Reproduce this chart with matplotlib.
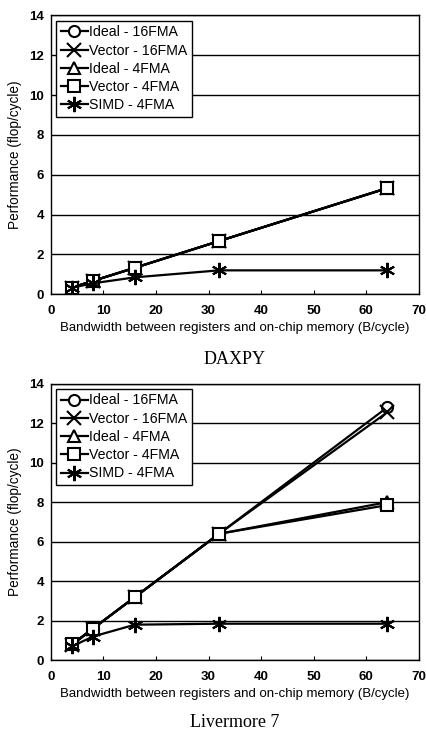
import matplotlib
matplotlib.use("Agg")
import matplotlib.pyplot as plt

bandwidth = [4, 8, 16, 32, 64]
series_labels = ["Ideal - 16FMA", "Vector - 16FMA", "Ideal - 4FMA", "Vector - 4FMA", "SIMD - 4FMA"]
markers = ["o", "x", "^", "s", (6, 2, 0)]

daxpy_ideal16 = [0.33, 0.67, 1.33, 2.67, 5.33]
daxpy_vector16 = [0.33, 0.67, 1.33, 2.67, 5.33]
daxpy_ideal4 = [0.33, 0.67, 1.33, 2.67, 5.33]
daxpy_vector4 = [0.33, 0.67, 1.33, 2.67, 5.33]
daxpy_simd4 = [0.33, 0.55, 0.85, 1.2, 1.2]

liv_ideal16 = [0.8, 1.6, 3.2, 6.4, 12.8]
liv_vector16 = [0.75, 1.6, 3.2, 6.4, 12.55]
liv_ideal4 = [0.8, 1.6, 3.2, 6.4, 8.0]
liv_vector4 = [0.8, 1.6, 3.2, 6.4, 7.85]
liv_simd4 = [0.7, 1.2, 1.8, 1.85, 1.85]

xticks = [0, 10, 20, 30, 40, 50, 60, 70]
yticks = [0, 2, 4, 6, 8, 10, 12, 14]

plt.rcParams['font.family'] = ['Liberation Sans', 'DejaVu Sans']

fig = plt.figure(figsize=(4.27, 7.32), dpi=100)
ax1 = fig.add_axes([0.119, 0.598, 0.862, 0.381])
ax2 = fig.add_axes([0.119, 0.098, 0.862, 0.378])

def draw(ax, data, title, ty):
    for vals, lab, m in zip(data, series_labels, markers):
        ms = 10 if m in ("x",) else (11 if isinstance(m, tuple) else 8)
        ax.plot(bandwidth, vals, color="black", lw=1.6, marker=m, ms=ms,
                mfc="white", mec="black", mew=1.5, label=lab)
    ax.set_xlim(0, 70)
    ax.set_ylim(0, 14)
    ax.set_xticks(xticks)
    ax.set_yticks(yticks)
    ax.yaxis.grid(True, color="black", lw=1.0)
    ax.set_axisbelow(True)
    for s in ax.spines.values():
        s.set_linewidth(1.0)
    ax.tick_params(axis="x", direction="in", length=3, labelsize=9.5, pad=8)
    ax.tick_params(axis="y", direction="out", length=0, labelsize=9.5, pad=5)
    for t in ax.get_xticklabels() + ax.get_yticklabels():
        t.set_fontweight("bold")
    ax.set_ylabel("Performance (flop/cycle)", fontsize=9.8, labelpad=5)
    ax.set_xlabel("Bandwidth between registers and on-chip memory (B/cycle)", fontsize=9.5, labelpad=3)
    leg = ax.legend(loc="upper left", fontsize=10.2, frameon=True, fancybox=False,
                    edgecolor="black", framealpha=1, handlelength=1.9, handletextpad=0.1,
                    borderpad=0.3, labelspacing=0.3, borderaxespad=0.4)
    leg.get_frame().set_linewidth(1.0)
    ax.text(0.5, ty, title, transform=ax.transAxes, ha="center", va="center",
            fontsize=13, family=["Liberation Serif", "DejaVu Serif"])

draw(ax1, [daxpy_ideal16, daxpy_vector16, daxpy_ideal4, daxpy_vector4, daxpy_simd4], "DAXPY", -0.235)
draw(ax2, [liv_ideal16, liv_vector16, liv_ideal4, liv_vector4, liv_simd4], "Livermore 7", -0.225)

fig.savefig("out.png", dpi=100)
